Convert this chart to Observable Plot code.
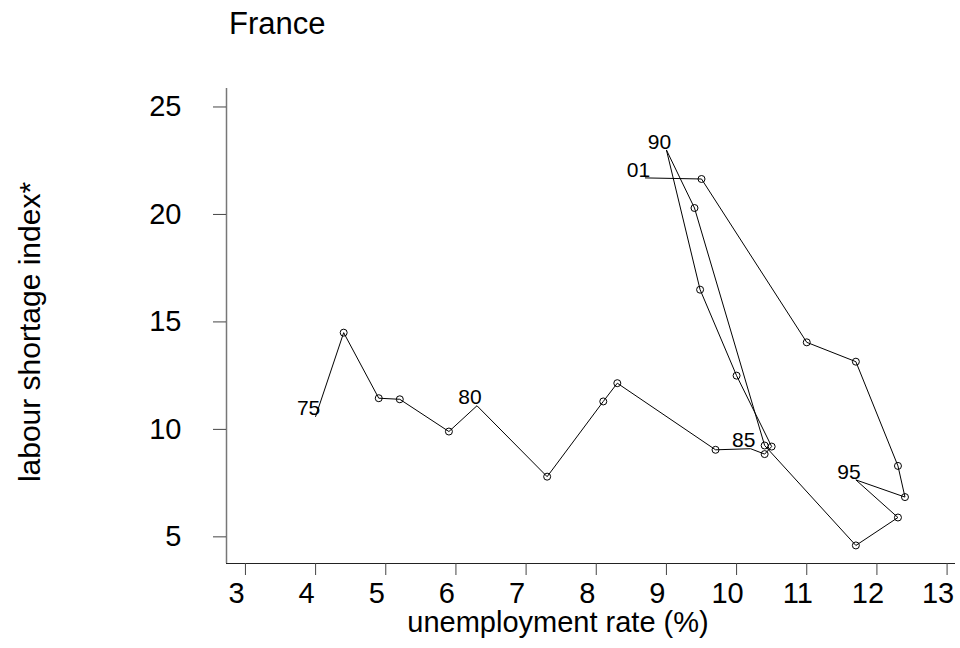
<!DOCTYPE html>
<html>
<head>
<meta charset="utf-8">
<script src="https://cdn.jsdelivr.net/npm/d3@7"></script>
<script src="https://cdn.jsdelivr.net/npm/@observablehq/plot@0.6"></script>
<style>
  html, body { margin: 0; padding: 0; background: #fff; }
  #wrap { position: relative; width: 960px; height: 648px; font-family: "Liberation Sans", Arial, sans-serif; }
  #title { position: absolute; left: 229px; top: 4px; font-size: 31px; line-height: 40px; color: #000; }
</style>
</head>
<body>
<div id="wrap">
  <div id="chart"></div>
  <div id="title">France</div>
</div>
<script>
// Data
const years = [1975,1976,1977,1978,1979,1980,1981,1982,1983,1984,1985,1986,1987,1988,1989,1990,1991,1992,1993,1994,1995,1996,1997,1998,1999,2000,2001];
const unemployment = [4.0,4.4,4.9,5.2,5.9,6.3,7.3,8.1,8.3,9.7,10.2,10.4,10.5,10.0,9.48,9.0,9.4,10.4,11.7,12.3,11.7,12.4,12.3,11.7,11.0,9.5,8.7];
const shortage = [10.6,14.5,11.45,11.4,9.9,11.1,7.8,11.3,12.15,9.05,9.1,8.85,9.2,12.5,16.5,23.0,20.3,9.25,4.6,5.9,7.65,6.85,8.3,13.15,14.05,21.65,21.7];
const labelledYears = [1975,1980,1985,1990,1995,2001];
const xTicks = [3,4,5,6,7,8,9,10,11,12,13];
const yTicks = [5,10,15,20,25];
const xTitle = "unemployment rate (%)";
const yTitle = "labour shortage index*";

const rows = years.map((yr, i) => ({year: yr, u: unemployment[i], s: shortage[i], lab: String(yr).slice(2)}));
const labelled = rows.filter(d => labelledYears.includes(d.year));
const circles = rows.filter(d => !labelledYears.includes(d.year));

const font = "Liberation Sans, Arial, sans-serif";
const xDom = [2.73, 13.12], yDom = [3.76, 25.86];

const chart = Plot.plot({
  width: 960,
  height: 648,
  marginLeft: 226,
  marginRight: 5,
  marginTop: 88,
  marginBottom: 85,
  style: {fontFamily: font, background: "#fff", color: "#000"},
  x: {domain: xDom},
  y: {domain: yDom},
  marks: [
    Plot.ruleY([yDom[0]], {stroke: "#222", strokeWidth: 1}),
    Plot.ruleX([xDom[0]], {stroke: "#777", strokeWidth: 1.5}),
    Plot.axisX(xTicks, {tickSize: 12, tickFormat: () => "", label: null, stroke: "#444"}),
    Plot.axisY(yTicks, {tickSize: 13, tickFormat: () => "", label: null, stroke: "#444"}),
    Plot.text(xTicks, {x: d => d, text: d => String(d), frameAnchor: "bottom", lineAnchor: "top", dy: 19, dx: -9, fontSize: 29, fill: "#000"}),
    Plot.text(yTicks, {y: d => d, text: d => String(d), frameAnchor: "left", textAnchor: "end", dx: -45, fontSize: 29, fill: "#000"}),
    Plot.text([xTitle], {frameAnchor: "bottom", textAnchor: "middle", lineAnchor: "top", dy: 48, dx: -33, fontSize: 29, fill: "#000"}),
    Plot.text([yTitle], {frameAnchor: "left", textAnchor: "middle", rotate: -90, dx: -196, dy: 6, fontSize: 30, fill: "#000"}),
    Plot.line(rows, {x: "u", y: "s", stroke: "#000", strokeWidth: 1}),
    Plot.dot(circles, {x: "u", y: "s", r: 3.5, stroke: "#000", fill: "none", strokeWidth: 1}),
    Plot.text(labelled, {x: "u", y: "s", text: "lab", dx: -7, dy: -8, fontSize: 21, fill: "#000"})
  ]
});
document.getElementById("chart").appendChild(chart);
</script>
</body>
</html>
